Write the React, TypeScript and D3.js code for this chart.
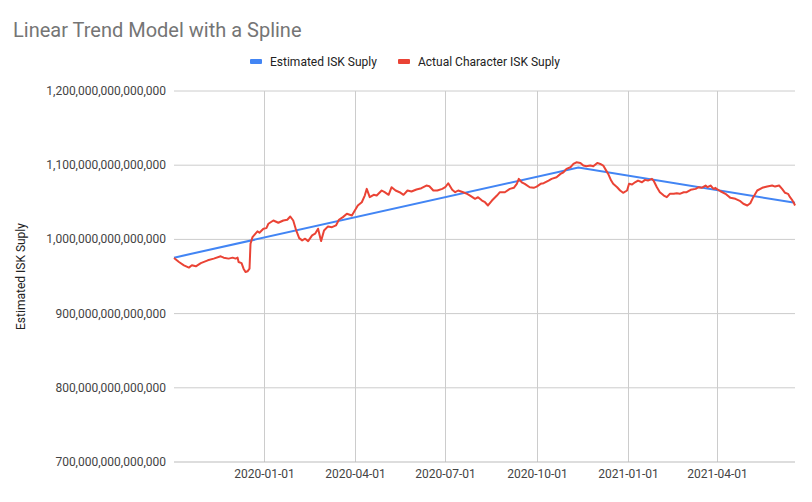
import React from "react";
import * as d3 from "d3";

const TITLE = "Linear Trend Model with a Spline";
const SERIES_NAMES = ["Estimated ISK Suply", "Actual Character ISK Suply"];
const Y_TITLE = "Estimated ISK Suply";
const Y_TICKS = [700, 800, 900, 1000, 1100, 1200]; // trillions
const X_TICKS = ["2020-01-01", "2020-04-01", "2020-07-01", "2020-10-01", "2021-01-01", "2021-04-01"];
const X_DOMAIN = ["2019-10-02", "2021-06-18"];

// Estimated (linear trend with one knot), trillions
const estDates = ["2019-10-02", "2020-11-12", "2021-06-18"];
const estValues = [975.4, 1096.9, 1049.3];

// Actual, trillions
const actDates = [
  "2019-10-02", "2019-10-07", "2019-10-12", "2019-10-17", "2019-10-20", "2019-10-24", "2019-10-29",
  "2019-11-05", "2019-11-11", "2019-11-18", "2019-11-21", "2019-11-26", "2019-11-30", "2019-12-03",
  "2019-12-05", "2019-12-06", "2019-12-09", "2019-12-11", "2019-12-13", "2019-12-15", "2019-12-17",
  "2019-12-18", "2019-12-20", "2019-12-23", "2019-12-25", "2019-12-27", "2019-12-31", "2020-01-03",
  "2020-01-05", "2020-01-10", "2020-01-15", "2020-01-20", "2020-01-24", "2020-01-27", "2020-01-30",
  "2020-02-02", "2020-02-05", "2020-02-08", "2020-02-11", "2020-02-14", "2020-02-18", "2020-02-21",
  "2020-02-24", "2020-02-27", "2020-03-01", "2020-03-05", "2020-03-09", "2020-03-13", "2020-03-16",
  "2020-03-20", "2020-03-24", "2020-03-29", "2020-04-01", "2020-04-04", "2020-04-08", "2020-04-11",
  "2020-04-13", "2020-04-16", "2020-04-20", "2020-04-23", "2020-04-28", "2020-05-01", "2020-05-05",
  "2020-05-08", "2020-05-12", "2020-05-16", "2020-05-20", "2020-05-24", "2020-05-28", "2020-06-02",
  "2020-06-07", "2020-06-12", "2020-06-15", "2020-06-19", "2020-06-23", "2020-06-28", "2020-07-01",
  "2020-07-04", "2020-07-08", "2020-07-11", "2020-07-14", "2020-07-19", "2020-07-23", "2020-07-26",
  "2020-07-31", "2020-08-03", "2020-08-07", "2020-08-10", "2020-08-13", "2020-08-17", "2020-08-22",
  "2020-08-25", "2020-08-30", "2020-09-04", "2020-09-08", "2020-09-11", "2020-09-13", "2020-09-16",
  "2020-09-19", "2020-09-24", "2020-09-28", "2020-10-01", "2020-10-05", "2020-10-08", "2020-10-13",
  "2020-10-16", "2020-10-21", "2020-10-25", "2020-10-28", "2020-10-31", "2020-11-04", "2020-11-07",
  "2020-11-10", "2020-11-14", "2020-11-17", "2020-11-20", "2020-11-24", "2020-11-27", "2020-12-01",
  "2020-12-04", "2020-12-07", "2020-12-10", "2020-12-12", "2020-12-15", "2020-12-17", "2020-12-21",
  "2020-12-24", "2020-12-27", "2020-12-31", "2021-01-02", "2021-01-05", "2021-01-08", "2021-01-11",
  "2021-01-15", "2021-01-18", "2021-01-21", "2021-01-25", "2021-01-27", "2021-01-30", "2021-02-02",
  "2021-02-06", "2021-02-09", "2021-02-12", "2021-02-16", "2021-02-19", "2021-02-22", "2021-02-26",
  "2021-03-01", "2021-03-05", "2021-03-10", "2021-03-13", "2021-03-16", "2021-03-20", "2021-03-22",
  "2021-03-25", "2021-03-28", "2021-03-30", "2021-03-31", "2021-04-04", "2021-04-09", "2021-04-14",
  "2021-04-19", "2021-04-24", "2021-04-27", "2021-05-01", "2021-05-04", "2021-05-07", "2021-05-11",
  "2021-05-16", "2021-05-21", "2021-05-26", "2021-05-29", "2021-06-02", "2021-06-05", "2021-06-08",
  "2021-06-11", "2021-06-13", "2021-06-15", "2021-06-17", "2021-06-18",
];
const actValues = [
  974.9, 969.5, 965.1, 962.0, 965.1, 963.7, 968.1,
  971.8, 974.1, 977.2, 975.4, 974.1, 975.4, 974.1,
  975.4, 969.5, 968.1, 960.6, 956.0, 957.0, 960.6,
  994.2, 1003.1, 1007.7, 1010.8, 1009.0, 1014.4, 1015.2,
  1021.1, 1025.5, 1022.4, 1025.5, 1026.5, 1030.9, 1025.5,
  1012.1, 1001.7, 998.7, 1000.9, 997.7, 1005.4, 1007.7,
  1014.4, 997.7, 1012.1, 1017.5, 1016.5, 1018.8, 1026.5,
  1030.0, 1034.5, 1032.3, 1039.0, 1045.7, 1050.1, 1059.1,
  1068.1, 1056.9, 1060.1, 1059.1, 1065.9, 1063.6, 1060.1,
  1070.3, 1065.9, 1063.6, 1060.1, 1065.9, 1064.5, 1067.2,
  1069.0, 1072.6, 1071.6, 1065.9, 1065.9, 1068.1, 1070.3,
  1075.7, 1066.8, 1063.6, 1065.9, 1063.6, 1061.4, 1059.1,
  1054.7, 1056.9, 1052.4, 1050.1, 1045.7, 1052.4, 1059.1,
  1063.6, 1063.6, 1068.1, 1069.5, 1074.9, 1081.6, 1077.0,
  1074.9, 1070.3, 1069.5, 1071.2, 1074.9, 1075.7, 1079.3,
  1081.6, 1083.7, 1088.3, 1090.5, 1095.0, 1097.2, 1101.7,
  1103.9, 1103.1, 1099.5, 1098.5, 1099.5, 1098.5, 1103.1,
  1101.7, 1099.5, 1092.7, 1088.3, 1079.3, 1074.9, 1070.3,
  1065.9, 1062.8, 1065.9, 1074.9, 1073.9, 1077.0, 1079.3,
  1077.0, 1080.2, 1079.3, 1081.6, 1078.4, 1070.3, 1063.6,
  1059.1, 1056.9, 1061.4, 1061.4, 1062.2, 1061.4, 1063.6,
  1063.6, 1066.8, 1068.1, 1070.3, 1069.5, 1072.6, 1070.3,
  1072.6, 1068.1, 1069.5, 1068.1, 1064.9, 1061.4, 1056.0,
  1054.7, 1051.5, 1048.0, 1045.7, 1048.8, 1056.9, 1065.9,
  1069.5, 1071.2, 1072.6, 1071.2, 1072.6, 1068.1, 1062.8,
  1061.4, 1056.9, 1053.4, 1048.8, 1045.7,
];

const COLORS = ["#4285f4", "#ea4335"];
const FONT = "Roboto, Arial, sans-serif";

export default function App() {
  const W = 812, H = 502;
  const left = 174, right = 795, top = 91, bottom = 462;
  const parse = d3.utcParse("%Y-%m-%d");
  const x = d3.scaleUtc().domain(X_DOMAIN.map((d) => parse(d)!)).range([left, right]);
  const y = d3.scaleLinear().domain([700, 1200]).range([bottom, top]);
  const fmt = d3.format(",.0f");

  const line = d3
    .line<[Date, number]>()
    .x((d) => x(d[0]))
    .y((d) => y(d[1]));

  const est: [Date, number][] = estDates.map((d, i) => [parse(d)!, estValues[i]]);
  const act: [Date, number][] = actDates.map((d, i) => [parse(d)!, actValues[i]]);

  const legendX = [250, 398];

  return (
    <svg
      width={W}
      height={H}
      style={{ position: "absolute", left: 0, top: 0, background: "#fff" }}
      fontFamily={FONT}
    >
      <rect x={0} y={0} width={W} height={H} fill="#fff" />
      <text x={13} y={37} fontSize={20} fill="#757575">
        {TITLE}
      </text>
      {SERIES_NAMES.map((n, i) => (
        <g key={n}>
          <rect x={legendX[i]} y={59} width={12} height={5} rx={1} fill={COLORS[i]} />
          <text x={legendX[i] + 20} y={65.5} fontSize={12} fill="#222">
            {n}
          </text>
        </g>
      ))}
      {Y_TICKS.map((t) => (
        <g key={t}>
          {t !== 700 && (
            <line x1={left} x2={right} y1={y(t)} y2={y(t)} stroke="#cccccc" strokeWidth={1} />
          )}
          <text x={166} y={y(t) + 4} fontSize={12} fill="#444" textAnchor="end">
            {fmt(t * 1e12)}
          </text>
        </g>
      ))}
      {X_TICKS.map((t) => {
        const xx = Math.round(x(parse(t)!)) + 0.5;
        return (
          <g key={t}>
            <line x1={xx} x2={xx} y1={top} y2={bottom} stroke="#cccccc" strokeWidth={1} />
            <text x={xx} y={478} fontSize={12} fill="#444" textAnchor="middle">
              {t}
            </text>
          </g>
        );
      })}
      <line x1={left} x2={right} y1={y(700)} y2={y(700)} stroke="#bbbbbb" strokeWidth={1} />
      <text
        transform={`translate(25,${(top + bottom) / 2}) rotate(-90)`}
        fontSize={12}
        fill="#222"
        textAnchor="middle"
      >
        {Y_TITLE}
      </text>
      <path d={line(est) || ""} fill="none" stroke={COLORS[0]} strokeWidth={2} />
      <path d={line(act) || ""} fill="none" stroke={COLORS[1]} strokeWidth={2} strokeLinejoin="round" />
    </svg>
  );
}
